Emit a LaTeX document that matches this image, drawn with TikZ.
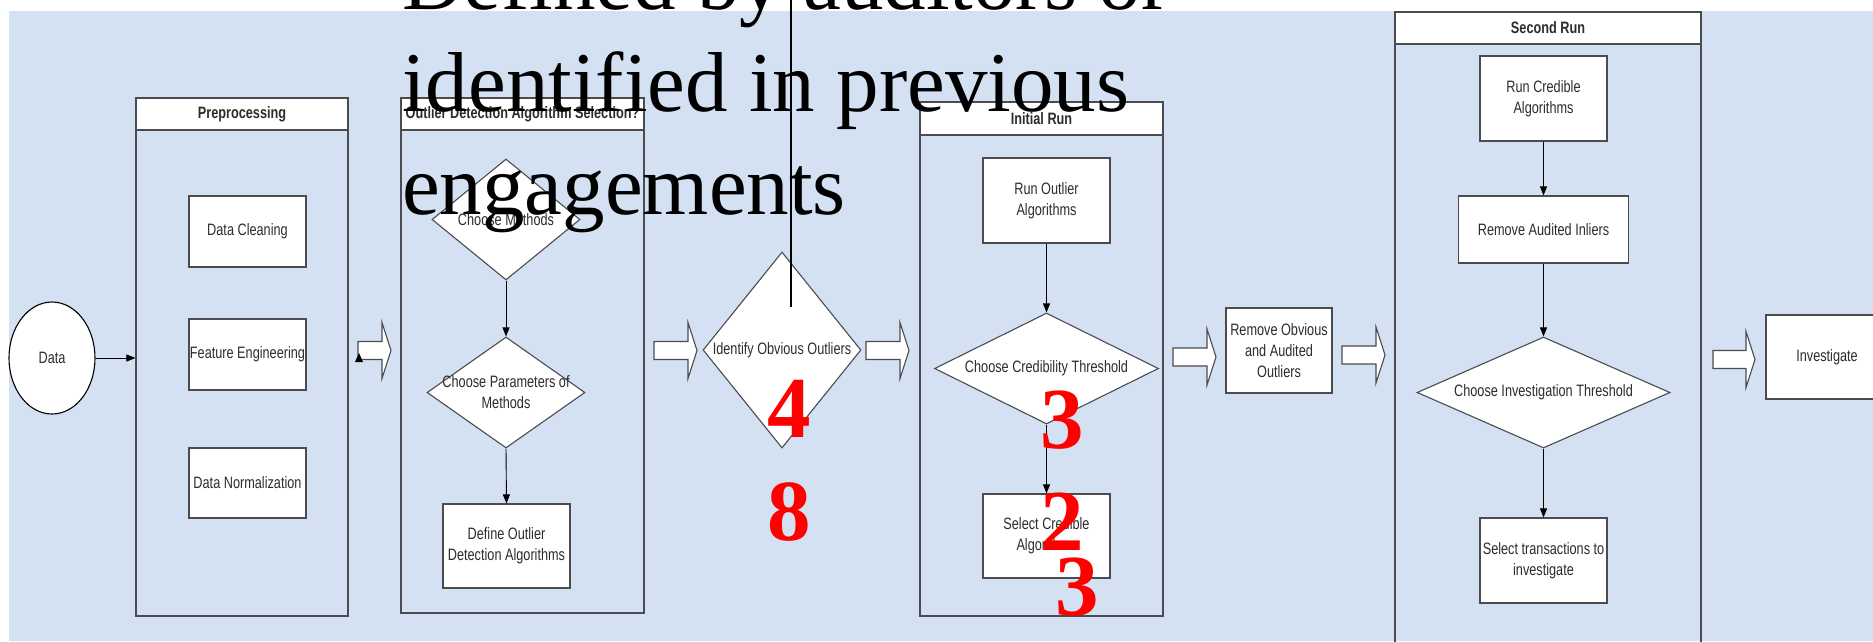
\documentclass[tikz,border=0pt]{standalone}
\usepackage{fontspec}
\setmainfont{Liberation Serif}
\newfontfamily\lblfont[FakeStretch=0.77]{Liberation Sans}
\usetikzlibrary{shapes.geometric,arrows.meta}
\definecolor{canvas}{RGB}{212,225,243}
\definecolor{ink}{RGB}{45,45,45}
\definecolor{edge}{RGB}{75,75,80}
\begin{document}
\begin{tikzpicture}[x=1pt,y=-1pt,
  lbl/.style={font=\lblfont\fontsize{16.5}{21}\selectfont, text=ink, align=center},
  box/.style={lbl, draw=edge, line width=1.1pt, fill=white, inner sep=0pt},
  dia/.style={diamond, draw=edge, line width=1.1pt, fill=white, inner sep=0pt},
  lane/.style={draw=edge, line width=1.1pt, inner sep=0pt},
  lanehead/.style={lbl, font=\lblfont\bfseries\fontsize{16.5}{21}\selectfont, draw=edge, line width=1.1pt, fill=white, inner sep=0pt, anchor=north},
  conn/.style={draw=black, line width=0.9pt, -{Triangle[length=9pt,width=7pt]}},
  barrow/.style={draw=edge, fill=white, line width=1.1pt, line join=miter},
  digit/.style={font=\bfseries\fontsize{87}{87}\selectfont, text=red, inner sep=0pt, anchor=base},
  pics/blk/.style={code={\path[barrow] (0,-9) -- (#1-9,-9) -- (#1-9,-28) -- (#1,0) -- (#1-9,28) -- (#1-9,9) -- (0,9) -- cycle;}}
]
\useasboundingbox (0,0) rectangle (1873,641);
\clip (0,0) rectangle (1873,641);
\fill[white] (0,0) rectangle (1873,641);
\fill[canvas] (9,11) rectangle (1873,641);

% swimlanes
\node[lane, minimum width=212, minimum height=518] (pre) at (242,357) {};
\node[lanehead, minimum width=212, minimum height=32] (prehd) at (pre.north) {Preprocessing};
\node[lane, minimum width=243, minimum height=515] (ods) at (522.5,355.5) {};
\node[lanehead, minimum width=243, minimum height=32] (odshd) at (ods.north) {Outlier Detection Algorithm Selection?};
\node[lane, minimum width=243, minimum height=514] (ini) at (1041.5,359) {};
\node[lanehead, minimum width=243, minimum height=33] (inihd) at (ini.north) {Initial Run};
\node[lane, minimum width=306, minimum height=688] (sec) at (1548,356) {};
\node[lanehead, minimum width=306, minimum height=32] (sechd) at (sec.north) {Second Run};

% source
\node[ellipse, draw=black, line width=1.1pt, fill=white, minimum width=86, minimum height=112, lbl] (data) at (52,358) {Data};

% preprocessing steps
\node[box, minimum width=117, minimum height=71] (dclean) at (247.5,231.5) {Data Cleaning};
\node[box, minimum width=117, minimum height=71] (feat) at (247.5,354.5) {Feature Engineering};
\node[box, minimum width=117, minimum height=70] (dnorm) at (247.5,483) {Data Normalization};

% algorithm selection
\node[dia, minimum width=148, minimum height=121, label={[lbl]center:Choose Methods}] (cmeth) at (506,219.5) {};
\node[dia, minimum width=158, minimum height=111, label={[lbl]center:{Choose Parameters of\\Methods}}] (cparam) at (506,392.5) {};
\node[box, minimum width=127, minimum height=84] (define) at (506.5,546) {Define Outlier\\Detection Algorithms};

% obvious outliers
\node[dia, minimum width=158, minimum height=196, label={[lbl]center:Identify Obvious Outliers}] (ident) at (782,350) {};

% initial run
\node[box, minimum width=127, minimum height=85] (runout) at (1046.5,200.5) {Run Outlier\\Algorithms};
\node[dia, minimum width=224, minimum height=111, label={[lbl]center:Choose Credibility Threshold}] (ccred) at (1046.5,368.5) {};
\node[box, minimum width=127, minimum height=84] (selcred) at (1046.5,536) {Select Credible\\Algorithms};

\node[box, minimum width=106, minimum height=85] (remobv) at (1279,350.5) {Remove Obvious\\and Audited\\Outliers};

% second run
\node[box, minimum width=127, minimum height=85] (runcred) at (1543.5,98.5) {Run Credible\\Algorithms};
\node[box, minimum width=170, minimum height=67] (remaud) at (1543.5,229.5) {Remove Audited Inliers};
\node[dia, minimum width=253, minimum height=111, label={[lbl]center:Choose Investigation Threshold}] (cinv) at (1543.5,392.5) {};
\node[box, minimum width=127, minimum height=85] (seltrans) at (1543.5,560.5) {Select transactions to\\investigate};

\node[box, minimum width=122, minimum height=84] (invest) at (1827,357) {Investigate};

% connectors
\draw[conn] (data.east) -- (data.east -| pre.west);
\draw[conn] (cmeth.south) -- (cparam.north);
\draw[conn] (cparam.south) -- (define.north);
\draw[conn] (runout.south) -- (ccred.north);
\draw[conn] (ccred.south) -- (selcred.north);
\draw[conn] (runcred.south) -- (remaud.north);
\draw[conn] (remaud.south) -- (cinv.north);
\draw[conn] (cinv.south) -- (seltrans.north);

% block arrows between stages
\pic at (358,350.5) {blk=33};
\pic at (654,350.5) {blk=43};
\pic at (866,350.5) {blk=43};
\pic at (1173,357) {blk=43};
\pic at (1342,355) {blk=43};
\pic at (1713,359.5) {blk=42};
\fill[black] (355,362) -- (359,353) -- (363,362) -- cycle;

% annotation
\node[anchor=north west, inner sep=0pt, align=left, font=\fontsize{85}{102.5}\selectfont] (note) at (402,-50.7) {Defined by auditors or\\identified in previous\\engagements};
\coordinate (ntop) at (791,-5);
\coordinate (nend) at (791,307);
\draw[black, line width=2pt] (ntop) -- (nend);

% counts
\node[digit] (n4) at (789,437) {4};
\node[digit] (n8) at (789,540) {8};
\node[digit] (n3a) at (1062,448) {3};
\node[digit] (n2) at (1062,550) {2};
\node[digit] (n3b) at (1077,615) {3};
\end{tikzpicture}
\end{document}
